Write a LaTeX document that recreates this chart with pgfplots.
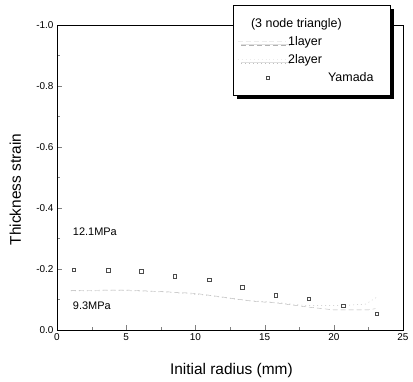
\documentclass[border=0pt]{standalone}
\usepackage{pgfplots}
\pgfplotsset{compat=1.18}
\usepackage{fontspec}
\setmainfont{Liberation Sans}
\usetikzlibrary{shadows}
\begin{document}
\begin{tikzpicture}
\useasboundingbox (0,0) rectangle (413bp,382bp);
\begin{axis}[
  at={(57bp,52bp)}, anchor=south west,
  scale only axis, width=346bp, height=305bp,
  xmin=0, xmax=25, ymin=-1, ymax=0,
  y dir=reverse,
  xtick={0,5,...,25}, minor xtick={2.5,7.5,...,22.5},
  ytick={-1,-0.8,...,0}, minor ytick={-0.9,-0.7,...,-0.1},
  xtick pos=left, ytick pos=left, tick align=inside,
  major tick length=5bp, minor tick length=3bp,
  yticklabel style={/pgf/number format/.cd, fixed, fixed zerofill, precision=1},
  /pgf/number format/assume math mode=true,
  ticklabel style={font=\fontsize{10}{12}\selectfont},
  xlabel={Initial radius (mm)}, ylabel={Thickness strain},
  label style={font=\fontsize{15.5}{18}\selectfont},
  xlabel style={at={(axis cs:12.6,0)}, anchor=center, yshift=-40bp},
  ylabel style={at={(axis cs:-3.0,-0.461)}, anchor=center},
  axis line style={line width=0.8pt},
  legend style={at={(rel axis cs:0.509,1.066)}, anchor=north west,
    draw=black, line width=0.6pt, fill=white,
    font=\fontsize{12.5}{15}\selectfont,
    inner xsep=4bp, inner ysep=11bp,
    row sep=3.5bp,
    drop shadow={fill=black, opacity=1, shadow xshift=3.5bp, shadow yshift=-3.5bp}},
  legend cell align=left,
  clip=false,
]
\addlegendimage{empty legend}
\addlegendentry{\hspace*{-37bp}(3 node triangle)}
\addplot[gray!60, thin, dash pattern=on 5pt off 3pt,
  legend image code/.code={\draw[gray!15, thin, dash pattern=on 5pt off 3pt] (0cm,0cm) -- (1.7cm,0cm);}] coordinates {
 (1,-0.130) (5,-0.131) (8,-0.125) (10,-0.120) (12,-0.108) (14,-0.095)
 (16,-0.088) (18,-0.076) (20,-0.066) (22.5,-0.066) (23,-0.070)};
\addlegendentry{1layer}
\addplot[gray!50, thin, dash pattern=on 1pt off 3pt,
  legend image code/.code={\draw[gray!15, thin, dash pattern=on 1pt off 3pt] (0cm,0cm) -- (1.7cm,0cm);}] coordinates {
 (1,-0.128) (5,-0.129) (8,-0.124) (11,-0.113) (13,-0.100) (16,-0.090)
 (18,-0.080) (20.5,-0.080) (22.3,-0.085) (23.2,-0.110)};
\addlegendentry{2layer}
\addplot[only marks, mark=square, mark size=1.8pt, black!70, mark options={line width=0.5pt},
  legend image code/.code={\node[minimum width=1.7cm, minimum height=2pt, inner sep=0pt, anchor=west, draw=none, fill=none] at (0cm,0cm) {}; \node[draw=black!70, line width=0.5pt, minimum size=3.2pt, inner sep=0pt, fill=white] at (1.0cm,0cm) {};}] coordinates {
 (1.2,-0.197) (3.7,-0.196) (6.1,-0.192) (8.5,-0.176) (11.0,-0.165)
 (13.4,-0.140) (15.8,-0.114) (18.2,-0.103) (20.7,-0.079) (23.1,-0.053)};
\addlegendentry{\hspace*{40bp}Yamada\hspace*{11bp}}
\node[anchor=west, font=\fontsize{11}{13}\selectfont] at (axis cs:0.9,-0.322) {12.1MPa};
\node[anchor=west, font=\fontsize{11}{13}\selectfont] at (axis cs:0.9,-0.078) {9.3MPa};
\end{axis}
\end{tikzpicture}
\end{document}
